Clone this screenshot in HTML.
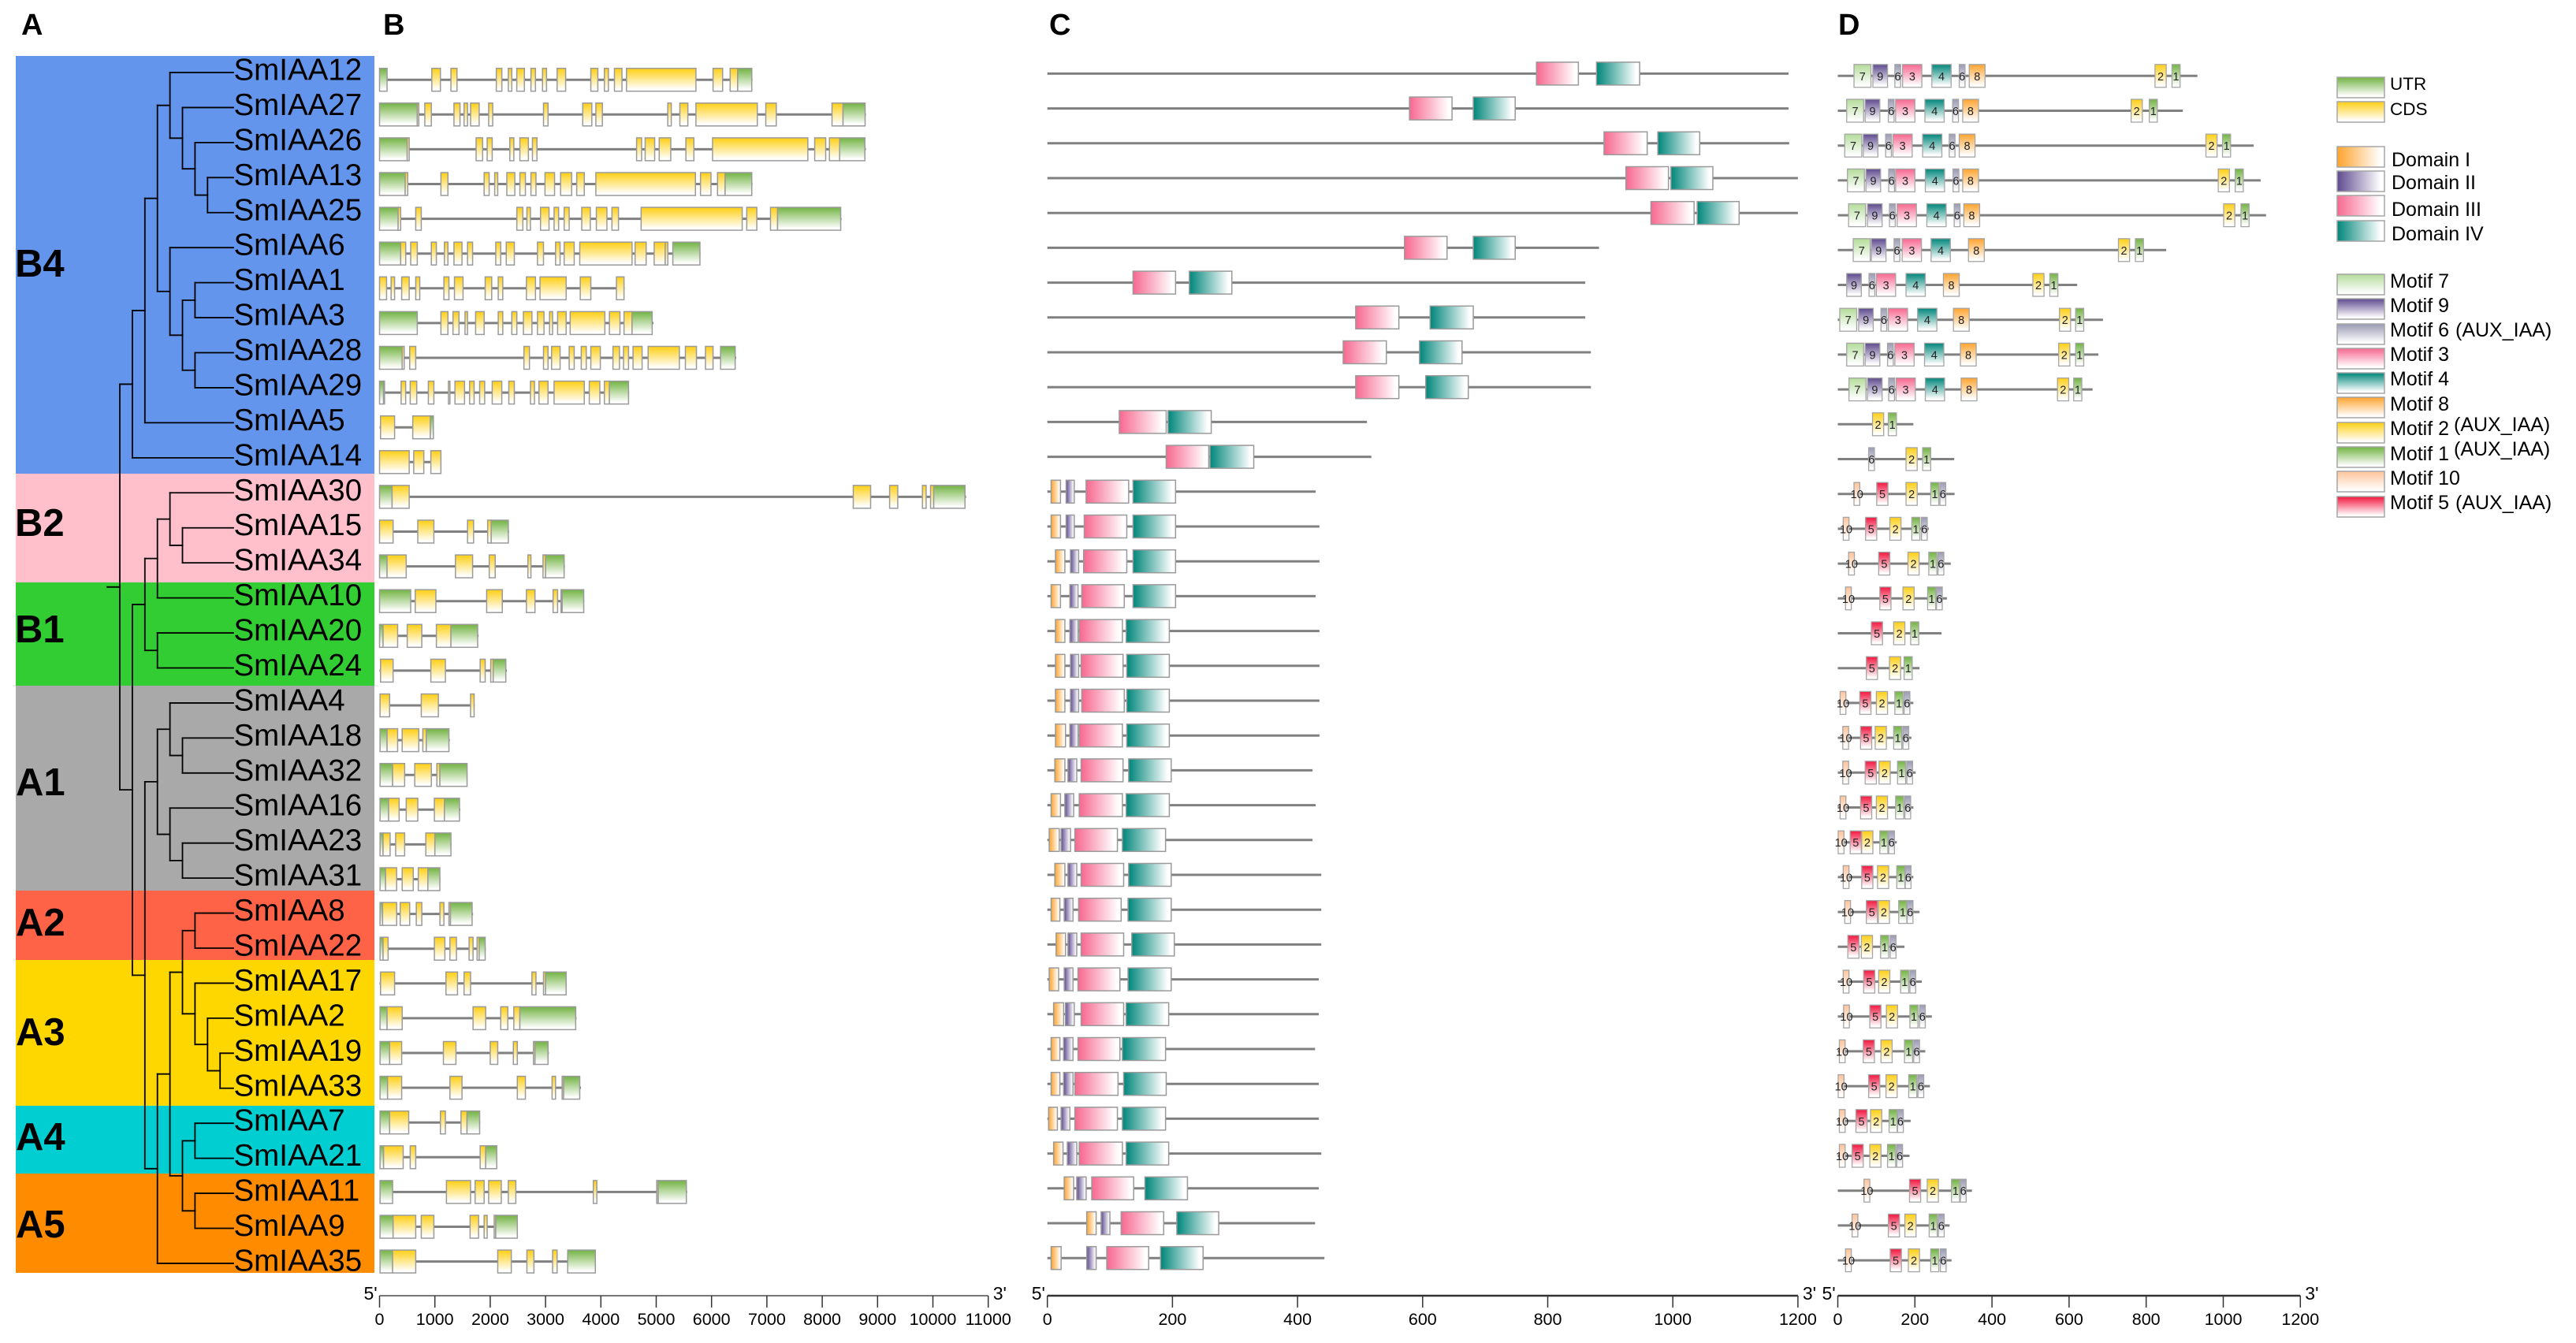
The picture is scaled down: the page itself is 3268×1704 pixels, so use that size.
<!DOCTYPE html>
<html lang="en">
<head>
<meta charset="utf-8">
<title>SmIAA gene family structure</title>
<style>
html,body{margin:0;padding:0;background:#fff;width:3268px;height:1704px;overflow:hidden}
svg{display:block}
text{font-family:"Liberation Sans",Arial,sans-serif;fill:#000}
.panel{font-size:38px;font-weight:bold}
.grp{font-size:49px;font-weight:bold}
.leg{font-size:25px}
</style>
</head>
<body>
<svg id="chart" xmlns="http://www.w3.org/2000/svg" width="3268" height="1704" viewBox="0 0 3268 1704">
<defs id="defs"></defs>
<rect width="3268" height="1704" fill="#fff"/>
<text class="panel" x="27" y="44">A</text>
<text class="panel" x="486" y="44">B</text>
<text class="panel" x="1331" y="44">C</text>
<text class="panel" x="2332" y="44">D</text>

<g>
<rect x="20" y="71" width="455" height="530" fill="#6495ED"/>
<rect x="20" y="601" width="455" height="138" fill="#FFC0CB"/>
<rect x="20" y="739" width="455" height="131" fill="#32CD32"/>
<rect x="20" y="870" width="455" height="260" fill="#A9A9A9"/>
<rect x="20" y="1130" width="455" height="88" fill="#FF6347"/>
<rect x="20" y="1218" width="455" height="185" fill="#FFD700"/>
<rect x="20" y="1403" width="455" height="86" fill="#00CED1"/>
<rect x="20" y="1489" width="455" height="126" fill="#FF8C00"/>
<text class="grp" x="19" y="351">B4</text>
<text class="grp" x="19" y="680">B2</text>
<text class="grp" x="19" y="815">B1</text>
<text class="grp" x="20" y="1009">A1</text>
<text class="grp" x="20" y="1187">A2</text>
<text class="grp" x="20" y="1326">A3</text>
<text class="grp" x="20" y="1459">A4</text>
<text class="grp" x="20" y="1570">A5</text>
</g>

<g id="tree"></g>
<g id="genes"></g>
<g id="domains"></g>
<g id="motifs"></g>
<g id="axes"></g>

<g id="legend">
<rect x="2965" y="98" width="60" height="26" fill="url(#v-utr)" stroke="#a5a5a5" stroke-width="1.5"/>
<text x="3032" y="114" font-size="22.5">UTR</text>
<rect x="2965" y="129" width="60" height="26" fill="url(#v-cds)" stroke="#a5a5a5" stroke-width="1.5"/>
<text x="3032" y="146" font-size="22.5">CDS</text>
<rect x="2965" y="186" width="60" height="26" fill="url(#h-d1)" stroke="#a5a5a5" stroke-width="1.5"/>
<text class="leg" x="3034" y="211">Domain I</text>
<rect x="2965" y="217" width="60" height="26" fill="url(#h-d2)" stroke="#a5a5a5" stroke-width="1.5"/>
<text class="leg" x="3034" y="240">Domain II</text>
<rect x="2965" y="248" width="60" height="26" fill="url(#h-d3)" stroke="#a5a5a5" stroke-width="1.5"/>
<text class="leg" x="3034" y="274">Domain III</text>
<rect x="2965" y="280" width="60" height="26" fill="url(#h-d4)" stroke="#a5a5a5" stroke-width="1.5"/>
<text class="leg" x="3034" y="305">Domain IV</text>

<rect x="2965" y="348" width="60" height="26" fill="url(#v-m7)" stroke="#a5a5a5" stroke-width="1.5"/>
<text class="leg" x="3032" y="365">Motif 7</text>
<rect x="2965" y="379" width="60" height="26" fill="url(#v-m9)" stroke="#a5a5a5" stroke-width="1.5"/>
<text class="leg" x="3032" y="396">Motif 9</text>
<rect x="2965" y="411" width="60" height="26" fill="url(#v-m6)" stroke="#a5a5a5" stroke-width="1.5"/>
<text class="leg" x="3032" y="427">Motif 6<tspan x="3115">(AUX_IAA)</tspan></text>
<rect x="2965" y="442" width="60" height="26" fill="url(#v-m3)" stroke="#a5a5a5" stroke-width="1.5"/>
<text class="leg" x="3032" y="458">Motif 3</text>
<rect x="2965" y="473" width="60" height="26" fill="url(#v-m4)" stroke="#a5a5a5" stroke-width="1.5"/>
<text class="leg" x="3032" y="489">Motif 4</text>
<rect x="2965" y="504" width="60" height="26" fill="url(#v-m8)" stroke="#a5a5a5" stroke-width="1.5"/>
<text class="leg" x="3032" y="521">Motif 8</text>
<rect x="2965" y="536" width="60" height="26" fill="url(#v-m2)" stroke="#a5a5a5" stroke-width="1.5"/>
<text class="leg" x="3032" y="552">Motif 2<tspan x="3113" y="547">(AUX_IAA)</tspan></text>
<rect x="2965" y="567" width="60" height="26" fill="url(#v-m1)" stroke="#a5a5a5" stroke-width="1.5"/>
<text class="leg" x="3032" y="584">Motif 1<tspan x="3113" y="578">(AUX_IAA)</tspan></text>
<rect x="2965" y="598" width="60" height="26" fill="url(#v-m10)" stroke="#a5a5a5" stroke-width="1.5"/>
<text class="leg" x="3032" y="615">Motif 10</text>
<rect x="2965" y="630" width="60" height="26" fill="url(#v-m5)" stroke="#a5a5a5" stroke-width="1.5"/>
<text class="leg" x="3032" y="646">Motif 5<tspan x="3115">(AUX_IAA)</tspan></text>
</g>
</svg>

<script>
var geneNames = ['SmIAA12','SmIAA27','SmIAA26','SmIAA13','SmIAA25','SmIAA6','SmIAA1','SmIAA3','SmIAA28','SmIAA29','SmIAA5','SmIAA14','SmIAA30','SmIAA15','SmIAA34','SmIAA10','SmIAA20','SmIAA24','SmIAA4','SmIAA18','SmIAA32','SmIAA16','SmIAA23','SmIAA31','SmIAA8','SmIAA22','SmIAA17','SmIAA2','SmIAA19','SmIAA33','SmIAA7','SmIAA21','SmIAA11','SmIAA9','SmIAA35'];

var treeTopology = [
  [[[['SmIAA12',['SmIAA27',['SmIAA26',['SmIAA13','SmIAA25']]]],
     ['SmIAA6',[['SmIAA1','SmIAA3'],['SmIAA28','SmIAA29']]]],'SmIAA5'],'SmIAA14'],
  [[[['SmIAA30',['SmIAA15','SmIAA34']],'SmIAA10'],['SmIAA20','SmIAA24']],
   [[['SmIAA4',['SmIAA18','SmIAA32']],['SmIAA16',['SmIAA23','SmIAA31']]],
    [[[['SmIAA8','SmIAA22'],['SmIAA17',['SmIAA2',['SmIAA19','SmIAA33']]]],
      [['SmIAA7','SmIAA21'],['SmIAA11','SmIAA9']]],'SmIAA35']]]
];

var geneTicks = [0,1000,2000,3000,4000,5000,6000,7000,8000,9000,10000,11000];
var proteinTicks = [0,200,400,600,800,1000,1200];

var geneLengths = [6740,8790,8790,6740,8350,5800,4430,4950,6445,4510,980,1110,10600,2340,3350,3700,1790,2300,1720,1270,1590,1460,1300,1100,1690,1920,3380,3560,3060,3640,1820,2130,5560,2500,3910];

var geneExons = [
[[0,136,'U'],[945,1100,'C'],[1290,1400,'C'],[2110,2210,'C'],[2327,2390,'C'],[2480,2618,'C'],[2736,2818,'C'],[2945,3018,'C'],[3209,3363,'C'],[3818,3945,'C'],[4063,4136,'C'],[4245,4381,'C'],[4463,5718,'C'],[6027,6200,'C'],[6336,6472,'C'],[6472,6727,'U']],
[[0,682,'U'],[682,710,'C'],[818,936,'C'],[1345,1454,'C'],[1527,1590,'C'],[1645,1800,'C'],[1972,2045,'C'],[2963,3045,'C'],[3672,3836,'C'],[3909,4027,'C'],[5209,5272,'C'],[5427,5572,'C'],[5718,6827,'C'],[6980,7170,'C'],[8177,8376,'C'],[8376,8775,'U']],
[[0,500,'U'],[500,536,'C'],[1745,1863,'C'],[1945,2036,'C'],[2354,2427,'C'],[2536,2690,'C'],[2763,2845,'C'],[4645,4736,'C'],[4800,4972,'C'],[5054,5263,'C'],[5536,5681,'C'],[6018,7740,'C'],[7864,8063,'C'],[8130,8315,'C'],[8315,8771,'U']],
[[0,464,'U'],[464,509,'C'],[1109,1236,'C'],[1890,1981,'C'],[2081,2136,'C'],[2300,2445,'C'],[2536,2636,'C'],[2736,2827,'C'],[2990,3163,'C'],[3272,3472,'C'],[3563,3700,'C'],[3909,5709,'C'],[5800,5990,'C'],[6108,6245,'C'],[6245,6727,'U']],
[[0,336,'U'],[336,382,'C'],[654,754,'C'],[2481,2590,'C'],[2663,2727,'C'],[2909,3063,'C'],[3154,3236,'C'],[3336,3427,'C'],[3654,3809,'C'],[3918,4109,'C'],[4200,4318,'C'],[4727,6554,'C'],[6636,6818,'C'],[7065,7193,'C'],[7193,8334,'U']],
[[0,382,'U'],[382,473,'C'],[563,682,'C'],[936,1027,'C'],[1172,1236,'C'],[1345,1490,'C'],[1590,1682,'C'],[2100,2190,'C'],[2290,2436,'C'],[2854,2963,'C'],[3181,3263,'C'],[3336,3518,'C'],[3618,4563,'C'],[4618,4818,'C'],[4963,5163,'C'],[5163,5210,'C'],[5300,5790,'U']],
[[0,127,'C'],[209,272,'C'],[400,536,'C'],[654,727,'C'],[1163,1254,'C'],[1354,1509,'C'],[1909,2027,'C'],[2145,2227,'C'],[2654,2818,'C'],[2900,3372,'C'],[3627,3818,'C'],[4281,4418,'C']],
[[0,682,'U'],[1109,1236,'C'],[1327,1436,'C'],[1545,1590,'C'],[1736,1890,'C'],[2145,2227,'C'],[2390,2481,'C'],[2600,2754,'C'],[2854,2972,'C'],[3072,3127,'C'],[3218,3372,'C'],[3445,4072,'C'],[4154,4345,'C'],[4418,4563,'C'],[4563,4927,'U']],
[[0,409,'U'],[409,445,'C'],[545,654,'C'],[2609,2709,'C'],[2963,3045,'C'],[3109,3263,'C'],[3427,3518,'C'],[3645,3736,'C'],[3818,3990,'C'],[4218,4336,'C'],[4409,4500,'C'],[4581,4745,'C'],[4854,5418,'C'],[5527,5727,'C'],[5890,6027,'C'],[6163,6427,'U']],
[[0,73,'U'],[73,90,'C'],[390,472,'C'],[554,672,'C'],[882,982,'C'],[1245,1272,'C'],[1363,1536,'C'],[1627,1709,'C'],[1809,1900,'C'],[2036,2209,'C'],[2336,2436,'C'],[2727,2800,'C'],[2881,3045,'C'],[3154,3700,'C'],[3790,3981,'C'],[4063,4154,'C'],[4154,4500,'U']],
[[18,272,'C'],[600,918,'C'],[918,973,'U']],
[[0,536,'C'],[618,800,'C'],[927,1109,'C']],
[[0,227,'U'],[227,536,'C'],[8561,8875,'C'],[9218,9365,'C'],[9811,9878,'C'],[9958,10015,'C'],[10015,10580,'U']],
[[0,245,'C'],[691,982,'C'],[1590,1700,'C'],[1954,2018,'C'],[2018,2327,'U']],
[[0,136,'U'],[136,482,'C'],[1372,1682,'C'],[1982,2090,'C'],[2681,2736,'C'],[2954,3000,'C'],[3000,3336,'U']],
[[0,563,'U'],[645,1018,'C'],[1936,2218,'C'],[2654,2809,'C'],[3136,3218,'C'],[3280,3300,'C'],[3300,3690,'U']],
[[0,64,'U'],[64,327,'C'],[500,764,'C'],[1027,1290,'C'],[1290,1773,'U']],
[[18,245,'C'],[927,1190,'C'],[1818,1909,'C'],[2009,2054,'C'],[2054,2282,'U']],
[[9,182,'C'],[754,1063,'C'],[1645,1709,'C']],
[[9,136,'U'],[136,327,'C'],[409,709,'C'],[782,845,'C'],[845,1254,'U']],
[[9,236,'U'],[236,454,'C'],[636,936,'C'],[1036,1090,'C'],[1090,1582,'U']],
[[9,164,'U'],[164,354,'C'],[482,691,'C'],[991,1172,'C'],[1172,1445,'U']],
[[9,64,'U'],[64,191,'C'],[291,454,'C'],[836,1000,'C'],[1000,1290,'U']],
[[9,109,'U'],[109,309,'C'],[409,609,'C'],[700,873,'C'],[873,1090,'U']],
[[9,55,'U'],[55,309,'C'],[373,545,'C'],[664,764,'C'],[1091,1163,'C'],[1254,1282,'C'],[1282,1673,'U']],
[[9,64,'U'],[64,155,'C'],[991,1181,'C'],[1272,1390,'C'],[1618,1690,'C'],[1763,1800,'C'],[1800,1909,'U']],
[[18,272,'C'],[1200,1409,'C'],[1527,1645,'C'],[2754,2827,'C'],[2963,3000,'C'],[3000,3372,'U']],
[[9,136,'U'],[136,409,'C'],[1690,1918,'C'],[2190,2318,'C'],[2427,2536,'C'],[2536,3545,'U']],
[[9,182,'U'],[182,400,'C'],[1154,1381,'C'],[2000,2136,'C'],[2418,2490,'C'],[2781,2809,'C'],[2809,3045,'U']],
[[9,145,'U'],[145,400,'C'],[1272,1490,'C'],[2490,2636,'C'],[3118,3181,'C'],[3300,3327,'C'],[3327,3618,'U']],
[[9,182,'U'],[182,527,'C'],[1100,1190,'C'],[1472,1581,'C'],[1581,1809,'U']],
[[9,73,'U'],[73,427,'C'],[554,654,'C'],[1818,1918,'C'],[1918,2118,'U']],
[[9,236,'U'],[1209,1645,'C'],[1727,1890,'C'],[1972,2200,'C'],[2327,2463,'C'],[3863,3927,'C'],[5009,5036,'C'],[5036,5545,'U']],
[[9,245,'U'],[245,654,'C'],[754,982,'C'],[1636,1790,'C'],[1890,1945,'C'],[2072,2100,'C'],[2100,2490,'U']],
[[9,236,'U'],[236,654,'C'],[2136,2381,'C'],[2663,2790,'C'],[3127,3209,'C'],[3400,3900,'U']]
];

var proteinLengths = [1185,1185,1186,1200,1200,882,860,860,869,869,511,518,429,435,435,429,435,435,435,435,424,429,424,438,438,438,434,434,428,434,434,438,434,428,443];

var domainSites = [
[[3,782,849],[4,878,947]],
[[3,579,647],[4,681,748]],
[[3,890,959],[4,976,1043]],
[[3,925,993],[4,997,1064]],
[[3,965,1034],[4,1039,1106]],
[[3,571,639],[4,681,748]],
[[3,137,205],[4,227,295]],
[[3,493,562],[4,612,681]],
[[3,473,542],[4,595,663]],
[[3,493,562],[4,605,673]],
[[3,115,190],[4,193,262]],
[[3,190,258],[4,260,330]],
[[1,6,21],[2,30,43],[3,62,130],[4,137,205]],
[[1,6,21],[2,30,43],[3,59,127],[4,137,205]],
[[1,13,28],[2,37,50],[3,58,127],[4,137,205]],
[[1,6,21],[2,36,49],[3,55,123],[4,137,205]],
[[1,13,28],[2,36,49],[3,51,120],[4,126,195]],
[[1,13,28],[2,37,50],[3,54,121],[4,127,195]],
[[1,13,28],[2,37,50],[3,55,123],[4,127,195]],
[[1,13,29],[2,36,49],[3,51,120],[4,127,195]],
[[1,12,28],[2,33,47],[3,54,121],[4,130,198]],
[[1,6,21],[2,28,42],[3,51,120],[4,126,195]],
[[1,3,19],[2,22,37],[3,44,112],[4,120,189]],
[[1,12,28],[2,33,47],[3,54,122],[4,130,198]],
[[1,6,20],[2,27,41],[3,50,118],[4,129,198]],
[[1,14,29],[2,33,47],[3,54,122],[4,135,203]],
[[1,3,18],[2,27,41],[3,49,116],[4,129,198]],
[[1,10,26],[2,29,43],[3,54,122],[4,126,194]],
[[1,6,20],[2,26,41],[3,49,116],[4,120,189]],
[[1,6,20],[2,26,41],[3,44,113],[4,122,190]],
[[1,2,16],[2,22,36],[3,44,112],[4,120,189]],
[[1,10,25],[2,32,47],[3,51,120],[4,126,194]],
[[1,27,42],[2,47,62],[3,71,138],[4,156,224]],
[[1,63,78],[2,86,100],[3,118,186],[4,207,274]],
[[1,6,22],[2,63,78],[3,95,162],[4,181,249]]
];

var motifProteinLengths = [933,895,1079,1097,1111,852,621,688,676,661,196,302,303,236,293,283,269,212,196,191,202,196,153,196,212,173,218,244,227,239,189,186,348,290,295];

var motifWidths = {1:21,2:29,3:50,4:50,5:29,6:15,7:44,8:41,9:38,10:15};

var motifSites = [
[[7,42],[9,91],[6,148],[3,168],[4,244],[6,315],[8,341],[2,823],[1,867]],
[[7,23],[9,71],[6,131],[3,150],[4,226],[6,298],[8,324],[2,761],[1,808]],
[[7,18],[9,66],[6,124],[3,143],[4,220],[6,289],[8,315],[2,955],[1,998]],
[[7,25],[9,73],[6,132],[3,150],[4,227],[6,299],[8,324],[2,987],[1,1031]],
[[7,28],[9,77],[6,134],[3,154],[4,231],[6,302],[8,327],[2,1001],[1,1046]],
[[7,40],[9,87],[6,146],[3,167],[4,242],[8,339],[2,728],[1,772]],
[[9,23],[6,81],[3,100],[4,177],[8,274],[2,506],[1,550]],
[[7,5],[9,54],[6,112],[3,131],[4,207],[8,300],[2,575],[1,617]],
[[7,23],[9,71],[6,129],[3,148],[4,225],[8,318],[2,573],[1,617]],
[[7,29],[9,77],[6,132],[3,151],[4,227],[8,320],[2,570],[1,612]],
[[2,90],[1,131]],
[[6,80],[2,177],[1,220]],
[[10,42],[5,101],[2,177],[1,241],[6,265]],
[[10,14],[5,72],[2,135],[1,192],[6,217]],
[[10,28],[5,106],[2,182],[1,236],[6,260]],
[[10,20],[5,109],[2,169],[1,233],[6,256]],
[[5,87],[2,145],[1,189]],
[[5,74],[2,134],[1,172]],
[[10,6],[5,57],[2,100],[1,148],[6,172]],
[[10,13],[5,59],[2,97],[1,145],[6,169]],
[[10,13],[5,71],[2,107],[1,155],[6,179]],
[[10,6],[5,59],[2,100],[1,150],[6,174]],
[[10,1],[5,32],[2,62],[1,109],[6,132]],
[[10,14],[5,62],[2,103],[1,153],[6,175]],
[[10,18],[5,74],[2,105],[1,158],[6,180]],
[[5,26],[2,61],[1,111],[6,136]],
[[10,14],[5,67],[2,106],[1,163],[6,187]],
[[10,15],[5,83],[2,126],[1,187],[6,212]],
[[10,4],[5,66],[2,112],[1,173],[6,197]],
[[10,1],[5,80],[2,125],[1,184],[6,208]],
[[10,4],[5,47],[2,85],[1,133],[6,155]],
[[10,4],[5,37],[2,83],[1,129],[6,153]],
[[10,68],[5,186],[2,232],[1,295],[6,318]],
[[10,37],[5,131],[2,174],[1,237],[6,261]],
[[10,20],[5,136],[2,183],[1,241],[6,266]]
];

var structureColors = {U:'#72B343', C:'#FFCF14'};
var domainColors = {1:'#FFA42E', 2:'#5E4A8E', 3:'#F76890', 4:'#00867A'};
var motifColors = {1:'#72B343',2:'#FFCF14',3:'#F76890',4:'#00867A',5:'#F2163F',6:'#9A9AB4',7:'#B4DC9A',8:'#FFA42E',9:'#5E4A8E',10:'#FFC49B'};

var NS = 'http://www.w3.org/2000/svg';
function make(tag, attrs, parent) {
  var node = document.createElementNS(NS, tag);
  for (var k in attrs) node.setAttribute(k, attrs[k]);
  parent.appendChild(node);
  return node;
}

/* axis functions */
function xGene(v) { return 481.5 + v * 0.0702; }
function xProtein(v) { return 1328.7 + v * 0.7935; }
function xMotif(v) { return 2331.5 + v * 0.489; }
function yTip(i) { return 92 + i * 44.44; }
function yGene(i) { return 101.2 + i * 44.1; }
function yProtein(i) { return 93.4 + i * 44.2; }
function yMotif(i) { return 96.3 + i * 44.2; }
function xDepth(d) { return 152 + d * 15.9; }

/* gradients */
var defs = document.getElementById('defs');
function gradient(id, color, horizontal) {
  var g = make('linearGradient', {id:id, x1:0, y1:0, x2:horizontal ? 1 : 0, y2:horizontal ? 0 : 1}, defs);
  make('stop', {offset:'0', 'stop-color':color}, g);
  make('stop', {offset:'0.92', 'stop-color':'#fff'}, g);
}
gradient('v-utr', structureColors.U, false);
gradient('v-cds', structureColors.C, false);
for (var d in domainColors) gradient('h-d' + d, domainColors[d], true);
for (var m in motifColors) gradient('v-m' + m, motifColors[m], false);

/* tree */
var treeGroup = document.getElementById('tree');
var TIP_X = 296;
function treeLine(x1, y1, x2, y2, name) {
  var ln = make('line', {x1:x1, y1:y1, x2:x2, y2:y2, stroke:'#000', 'stroke-width':1.8, 'stroke-linecap':'square'}, treeGroup);
  
  
}
function drawClade(node, depth) {
  if (typeof node === 'string') return yTip(geneNames.indexOf(node));
  var ya = drawClade(node[0], depth + 1);
  var yb = drawClade(node[1], depth + 1);
  var x = xDepth(depth);
  treeLine(x, ya, x, yb, 'tree-node-stem');
  [[node[0], ya], [node[1], yb]].forEach(function (c) {
    var endX = typeof c[0] === 'string' ? TIP_X : xDepth(depth + 1);
    treeLine(x, c[1], endX, c[1], 'tree-branch');
  });
  return (ya + yb) / 2;
}
var rootY = drawClade(treeTopology, 0);
treeLine(136, rootY, xDepth(0), rootY, 'tree-root');

geneNames.forEach(function (name, i) {
  var t = make('text', {x:296.5, y:yTip(i) + 9.5, 'font-size':38.5}, treeGroup);
  
  
  t.textContent = name;
});

/* panel B */
var geneGroup = document.getElementById('genes');
geneNames.forEach(function (name, i) {
  var y = yGene(i);
  var ln = make('line', {x1:xGene(0), y1:y, x2:xGene(geneLengths[i]), y2:y, stroke:'#808080', 'stroke-width':3}, geneGroup);
  
  
  geneExons[i].forEach(function (e) {
    var r = make('rect', {x:xGene(e[0]), y:y - 14.5, width:xGene(e[1]) - xGene(e[0]), height:29,
      fill:e[2] === 'U' ? 'url(#v-utr)' : 'url(#v-cds)', stroke:'#9a9a9a', 'stroke-width':1.5}, geneGroup);
    
    
  });
});

/* panel C */
var domainGroup = document.getElementById('domains');
geneNames.forEach(function (name, i) {
  var y = yProtein(i);
  var ln = make('line', {x1:xProtein(0), y1:y, x2:xProtein(proteinLengths[i]), y2:y, stroke:'#808080', 'stroke-width':3}, domainGroup);
  
  
  domainSites[i].forEach(function (s) {
    var r = make('rect', {x:xProtein(s[1]), y:y - 14.5, width:xProtein(s[2]) - xProtein(s[1]), height:29,
      fill:'url(#h-d' + s[0] + ')', stroke:'#9a9a9a', 'stroke-width':1.5}, domainGroup);
    
    
  });
});

/* panel D */
var motifGroup = document.getElementById('motifs');
geneNames.forEach(function (name, i) {
  var y = yMotif(i);
  var ln = make('line', {x1:xMotif(0), y1:y, x2:xMotif(motifProteinLengths[i]), y2:y, stroke:'#808080', 'stroke-width':3}, motifGroup);
  
  
  motifSites[i].forEach(function (s) {
    var w = motifWidths[s[0]];
    var r = make('rect', {x:xMotif(s[1]), y:y - 14.5, width:xMotif(s[1] + w) - xMotif(s[1]), height:29,
      fill:'url(#v-m' + s[0] + ')', stroke:'#a5a5a5', 'stroke-width':1.3}, motifGroup);
    
    
  });
  motifSites[i].forEach(function (s) {
    var w = motifWidths[s[0]];
    var t = make('text', {x:xMotif(s[1] + w / 2), y:y + 5.5, 'font-size':14.5, 'text-anchor':'middle', style:'fill:#222'}, motifGroup);
    
    
    t.textContent = String(s[0]);
  });
});

/* axes */
var axisGroup = document.getElementById('axes');
function drawAxis(scale, ticks, color, width, key) {
  var y0 = 1644, x0 = scale(ticks[0]), x1 = scale(ticks[ticks.length - 1]);
  var base = make('line', {x1:x0, y1:y0, x2:x1, y2:y0, stroke:color, 'stroke-width':width}, axisGroup);
  
  
  ticks.forEach(function (v) {
    var tk = make('line', {x1:scale(v), y1:y0, x2:scale(v), y2:y0 + 15, stroke:'#333', 'stroke-width':1.5}, axisGroup);
    
    
    var lb = make('text', {x:scale(v), y:1681, 'font-size':21.5, 'text-anchor':'middle'}, axisGroup);
    
    
    lb.textContent = String(v);
  });
  var five = make('text', {x:x0 - 20, y:y0 + 5, 'font-size':23}, axisGroup);
  
  
  five.textContent = "5'";
  var three = make('text', {x:x1 + 6, y:y0 + 5, 'font-size':23}, axisGroup);
  
  
  three.textContent = "3'";
}
drawAxis(xGene, geneTicks, '#777', 2, 'gene');
drawAxis(xProtein, proteinTicks, '#333', 2.5, 'protein');
drawAxis(xMotif, proteinTicks, '#333', 2.5, 'motif');
</script>
</body>
</html>
